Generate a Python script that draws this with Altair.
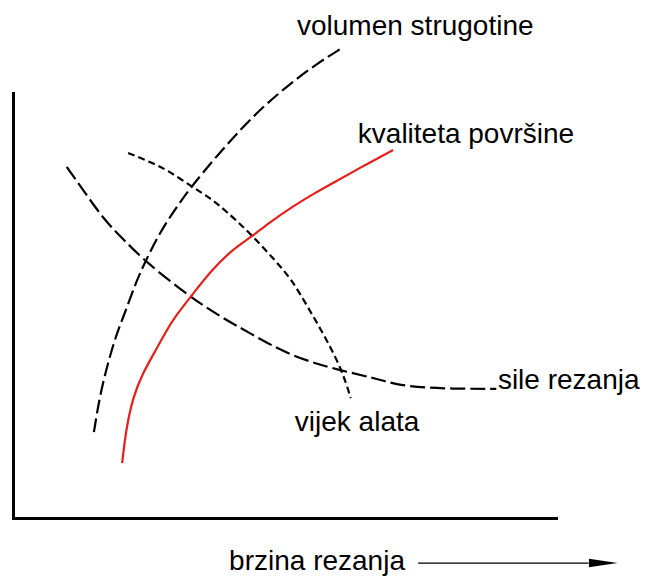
import altair as alt
import pandas as pd

# Relative units: x = cutting speed (0..100 along the axis), y = relative value (0..100)
vol_x = [14.9, 16.0, 17.5, 19.0, 20.6, 22.8, 24.5, 27.1, 29.8, 32.6, 37.2, 41.8, 46.4, 51.0, 55.6, 60.6]
vol_y = [20.2, 28.9, 36.5, 43.1, 48.2, 56.0, 60.7, 67.3, 72.5, 77.6, 84.7, 91.3, 97.2, 102.1, 106.6, 110.6]

kval_x = [20.1, 20.8, 22.1, 23.9, 26.0, 28.0, 29.8, 33.0, 36.3, 40.3, 43.9, 47.3, 51.4, 55.6, 58.9, 63.9, 70.0]
kval_y = [12.9, 20.7, 28.5, 34.1, 38.8, 43.5, 47.3, 52.5, 57.9, 63.1, 66.1, 69.6, 73.2, 76.5, 78.8, 82.4, 86.6]

sile_x = [9.9, 12.9, 16.8, 20.6, 24.5, 32.6, 38.3, 43.6, 51.4, 60.6, 66.7, 71.3, 79.0, 89.0]
sile_y = [82.6, 77.2, 70.1, 65.2, 60.2, 52.0, 47.3, 43.5, 37.9, 34.6, 32.9, 31.1, 30.4, 30.4]

vijek_x = [21.2, 25.2, 28.4, 33.0, 36.3, 39.0, 43.6, 48.2, 51.4, 54.3, 57.5, 60.6, 62.2]
vijek_y = [85.9, 83.8, 81.9, 77.9, 75.3, 72.5, 67.1, 60.7, 56.0, 49.6, 42.6, 34.8, 28.2]

label_text = ["volumen strugotine", "kvaliteta površine", "sile rezanja", "vijek alata", "brzina rezanja"]
label_x = [52.3, 63.5, 89.3, 51.9, 39.8]
label_y = [113.6, 88.2, 30.4, 20.5, -12.2]

arrow_x_start = [74.6]
arrow_x_end = [106.0]
arrow_y = [-10.6]
arrow_head_x = [108.7]

FONT = "Liberation Sans"

x_scale = alt.Scale(domain=[0, 100], nice=False, zero=False)
y_scale = alt.Scale(domain=[0, 100], nice=False, zero=False)
x_axis = alt.Axis(ticks=False, labels=False, grid=False, title="", domainWidth=3,
                  domainColor="black", domainCap="square")
y_axis = alt.Axis(ticks=False, labels=False, grid=False, title="", domainWidth=3,
                  domainColor="black", domainCap="square")


def curve(xs, ys, color, dash=None, width=2.2):
    df = pd.DataFrame({"x": xs, "y": ys, "i": list(range(len(xs)))})
    kw = dict(color=color, strokeWidth=width, interpolate="basis")
    if dash is not None:
        kw["strokeDash"] = dash
    return alt.Chart(df).mark_line(**kw).encode(
        x=alt.X("x:Q", scale=x_scale, axis=x_axis),
        y=alt.Y("y:Q", scale=y_scale, axis=y_axis),
        order="i:Q",
    )


vol = curve(vol_x, vol_y, "black", [14, 5])
sile = curve(sile_x, sile_y, "black", [15, 5])
vijek = curve(vijek_x, vijek_y, "black", [7, 4])
kval = curve(kval_x, kval_y, "#e3201b")

labels_df = pd.DataFrame({"t": label_text, "x": label_x, "y": label_y})
labels = alt.Chart(labels_df).mark_text(
    align="left", baseline="alphabetic", fontSize=28, font=FONT, color="black"
).encode(x=alt.X("x:Q", scale=x_scale), y=alt.Y("y:Q", scale=y_scale), text="t:N")

arrow_df = pd.DataFrame({"x": arrow_x_start, "x2": arrow_x_end, "y": arrow_y, "hx": arrow_head_x})
arrow_line = alt.Chart(arrow_df).mark_rule(color="black", strokeWidth=1.3).encode(
    x=alt.X("x:Q", scale=x_scale), x2="x2:Q", y=alt.Y("y:Q", scale=y_scale)
)
arrow_head = alt.Chart(arrow_df).mark_point(
    shape="M-1,-0.3 L1,0 L-1,0.3 Z", filled=True, color="black", size=820, opacity=1
).encode(x=alt.X("hx:Q", scale=x_scale), y=alt.Y("y:Q", scale=y_scale))

chart = alt.layer(vol, sile, vijek, kval, labels, arrow_line, arrow_head).properties(
    width=543,
    height=425,
    background="white",
    autosize=alt.AutoSizeParams(type="none"),
    padding={"left": 5, "top": 85, "right": 87, "bottom": 58},
).configure_view(stroke="transparent", strokeWidth=0)

chart.save("out.html", embed_options={"renderer": "svg", "actions": False})
